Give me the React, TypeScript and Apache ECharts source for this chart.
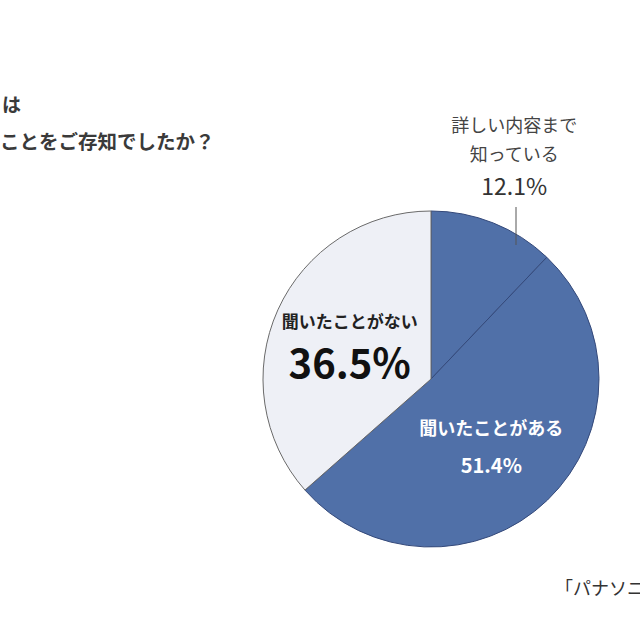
import React, { useEffect, useRef } from 'react';
import * as echarts from 'echarts';

const categories = ['詳しい内容まで\n知っている', '聞いたことがある', '聞いたことがない'];
const shares = [12.1, 51.4, 36.5];
const sliceColors = ['#5070a8', '#5070a8', '#eef0f6'];

const FONT = '"Noto Sans CJK JP", "Noto Sans", sans-serif';

export default function App() {
  const chartRef = useRef<HTMLDivElement>(null);

  useEffect(() => {
    if (!chartRef.current) return;
    document.body.style.margin = '0';
    const chart = echarts.init(chartRef.current, null, { renderer: 'svg' });

    const labelStyles = [
      {
        position: 'inside',
        offset: [51, -142],
        formatter: (p: any) => `{a|${p.name}}\n{b|${p.value}%}`,
        rich: {
          a: { fontSize: 18, color: '#444', lineHeight: 29, fontFamily: FONT },
          b: { fontSize: 23, color: '#333', lineHeight: 36, fontFamily: FONT },
        },
      },
      {
        position: 'inside',
        offset: [0, 4],
        formatter: (p: any) => `{a|${p.name}}\n{b|${p.value}%}`,
        rich: {
          a: { fontSize: 18, fontWeight: 'bold', color: '#fff', lineHeight: 37, fontFamily: FONT },
          b: { fontSize: 20, fontWeight: 'bold', color: '#fff', lineHeight: 37, fontFamily: FONT },
        },
      },
      {
        position: 'inside',
        offset: [-2, 2],
        formatter: (p: any) => `{a|${p.name}}\n{b|${p.value}%}`,
        rich: {
          a: { fontSize: 17, fontWeight: 'bold', color: '#222', lineHeight: 32, fontFamily: FONT },
          b: { fontSize: 40, fontWeight: 'bold', color: '#111', lineHeight: 50, fontFamily: FONT },
        },
      },
    ];

    chart.setOption({
      animation: false,
      backgroundColor: '#fff',
      graphic: [
        {
          type: 'text',
          left: 2,
          top: 94,
          style: { text: 'は', fontSize: 19, fontWeight: 'bold', fill: '#3a3a3a', fontFamily: FONT },
        },
        {
          type: 'text',
          left: 0,
          top: 131,
          style: { text: 'ことをご存知でしたか？', fontSize: 19.5, fontWeight: 'bold', fill: '#3a3a3a', fontFamily: FONT },
        },
        {
          type: 'text',
          left: 555,
          top: 578,
          style: { text: '「パナソニ', fontSize: 18, fill: '#333', fontFamily: FONT },
        },
        {
          type: 'line',
          shape: { x1: 516, y1: 207, x2: 516, y2: 245 },
          style: { stroke: '#555', lineWidth: 1 },
          z: 10,
        },
      ],
      series: [
        {
          type: 'pie',
          center: [431, 379],
          radius: [0, 168],
          startAngle: 90,
          clockwise: true,
          labelLine: { show: false },
          itemStyle: { borderColor: '#34497a', borderWidth: 1 },
          data: categories.map((name, i) => ({
            name,
            value: shares[i],
            itemStyle: {
              color: sliceColors[i],
              borderColor: i === 2 ? '#6a6a6a' : '#34497a',
            },
            label: labelStyles[i],
          })),
        },
      ],
    });

    return () => chart.dispose();
  }, []);

  return <div ref={chartRef} style={{ width: 640, height: 640, overflow: 'hidden' }} />;
}
